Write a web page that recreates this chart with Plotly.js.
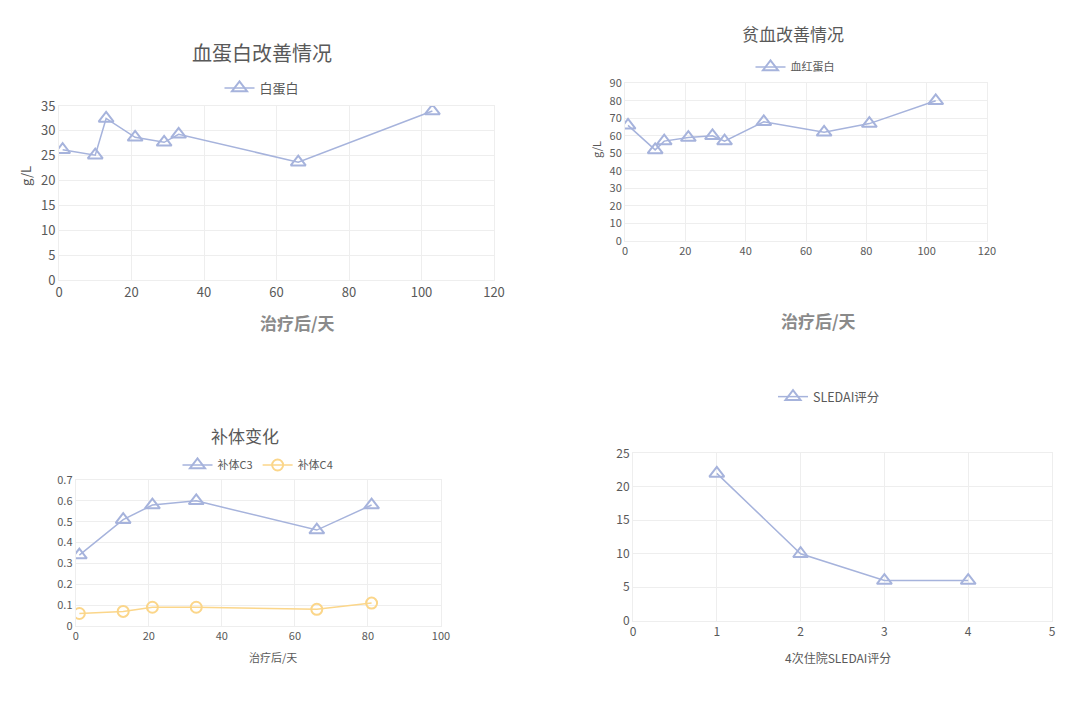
<!DOCTYPE html>
<html>
<head>
<meta charset="utf-8">
<script src="https://cdn.plot.ly/plotly-3.0.1.min.js"></script>
<style>
  html, body { margin: 0; padding: 0; background: #fff; }
  #chart { width: 1080px; height: 705px; }
</style>
</head>
<body>
<div id="chart"></div>
<script>
// 血蛋白（白蛋白）
var albDays = [1, 10, 13, 21, 29, 33, 66, 103];
var albVals = [26.2, 25.1, 32.5, 28.7, 27.7, 29.3, 23.7, 34.0];

// 贫血（血红蛋白）
var hbDays = [1, 10, 13, 21, 29, 33, 46, 66, 81, 103];
var hbVals = [66, 52, 57, 59, 60, 57, 68, 62, 67, 80];

// 补体 C3 / C4
var compDays = [1, 13, 21, 33, 66, 81];
var c3Vals = [0.34, 0.51, 0.58, 0.60, 0.46, 0.58];
var c4Vals = [0.06, 0.07, 0.09, 0.09, 0.08, 0.11];

// SLEDAI 评分
var sledaiIdx = [1, 2, 3, 4];
var sledaiVals = [22, 10, 6, 6];

var W = 1080, H = 705;
var BLUE = '#a6b3dc', GOLD = '#fbd68a';
var GRID = '#eeeeee', TXT = '#595959';
var FONT = '"Noto Sans CJK SC", "Open Sans", sans-serif';

function px(x) { return x / W; }
function py(y) { return 1 - y / H; }

function axis(domain, range, dtick, size, anchor) {
  return {
    domain: domain, range: range, dtick: dtick, anchor: anchor,
    showgrid: true, gridcolor: GRID, gridwidth: 1,
    zeroline: false, showline: true, linecolor: GRID, mirror: true,
    ticks: '', tickfont: { family: FONT, size: size, color: TXT },
    fixedrange: true
  };
}

function tri(x, y, xa, ya, name, legend) {
  return {
    type: 'scatter', mode: 'lines+markers', name: name,
    x: x, y: y, xaxis: xa, yaxis: ya, legend: legend,
    line: { color: BLUE, width: 1.5 },
    marker: { symbol: 'triangle-up-open', size: 13, color: BLUE, line: { color: BLUE, width: 2 } }
  };
}

var data = [
  tri(albDays, albVals, 'x', 'y', '白蛋白', 'legend'),
  tri(hbDays, hbVals, 'x2', 'y2', '血红蛋白', 'legend2'),
  tri(compDays, c3Vals, 'x3', 'y3', '补体C3', 'legend3'),
  {
    type: 'scatter', mode: 'lines+markers', name: '补体C4',
    x: compDays, y: c4Vals, xaxis: 'x3', yaxis: 'y3', legend: 'legend3',
    line: { color: GOLD, width: 1.5 },
    marker: { symbol: 'circle-open', size: 11, color: GOLD, line: { color: GOLD, width: 2 } }
  },
  tri(sledaiIdx, sledaiVals, 'x4', 'y4', 'SLEDAI评分', 'legend4')
];

function leg(x, y, size) {
  return {
    x: px(x), y: py(y), xanchor: 'center', yanchor: 'middle',
    orientation: 'h', bgcolor: 'rgba(0,0,0,0)',
    font: { family: FONT, size: size, color: TXT },
    itemwidth: 30, tracegroupgap: 0
  };
}

function ann(text, x, y, size, extra) {
  return Object.assign({
    text: text, x: px(x), y: py(y), xref: 'paper', yref: 'paper',
    xanchor: 'center', yanchor: 'middle', showarrow: false,
    font: { family: FONT, size: size, color: TXT }
  }, extra || {});
}

var layout = {
  width: W, height: H,
  margin: { l: 0, r: 0, t: 0, b: 0 },
  paper_bgcolor: '#fff', plot_bgcolor: '#fff',
  showlegend: true,
  font: { family: FONT, color: TXT },

  xaxis:  axis([px(59), px(494)],  [0, 120], 20, 13, 'y'),
  yaxis:  axis([py(280), py(106)], [0, 35], 5, 13, 'x'),
  xaxis2: axis([px(625), px(987)], [0, 120], 20, 11, 'y2'),
  yaxis2: axis([py(241), py(83.3)], [0, 90], 10, 11, 'x2'),
  xaxis3: axis([px(75.7), px(441)], [0, 100], 20, 11, 'y3'),
  yaxis3: axis([py(626), py(480)], [0, 0.7], 0.1, 11, 'x3'),
  xaxis4: axis([px(633), px(1052)], [0, 5], 1, 12, 'y4'),
  yaxis4: axis([py(620.7), py(453.3)], [0, 25], 5, 12, 'x4'),

  legend:  leg(262, 88, 13),
  legend2: leg(795, 67, 11),
  legend3: leg(258, 465, 11),
  legend4: leg(829, 397, 12.5),

  annotations: [
    ann('血蛋白改善情况', 262, 52, 20),
    ann('g/L', 25, 176, 13, { textangle: -90 }),
    ann('<b>治疗后/天</b>', 297, 322, 17, { font: { family: FONT, size: 17, color: '#8a8a8a' } }),

    ann('贫血改善情况', 793, 34, 17),
    ann('g/L', 596, 150, 11, { textangle: -90 }),
    ann('<b>治疗后/天</b>', 818, 320, 17, { font: { family: FONT, size: 17, color: '#8a8a8a' } }),

    ann('补体变化', 245, 435, 17),
    ann('治疗后/天', 273, 657, 11),

    ann('4次住院SLEDAI评分', 838, 657, 12)
  ]
};

Plotly.newPlot('chart', data, layout, { displayModeBar: false, staticPlot: true });
</script>
</body>
</html>
